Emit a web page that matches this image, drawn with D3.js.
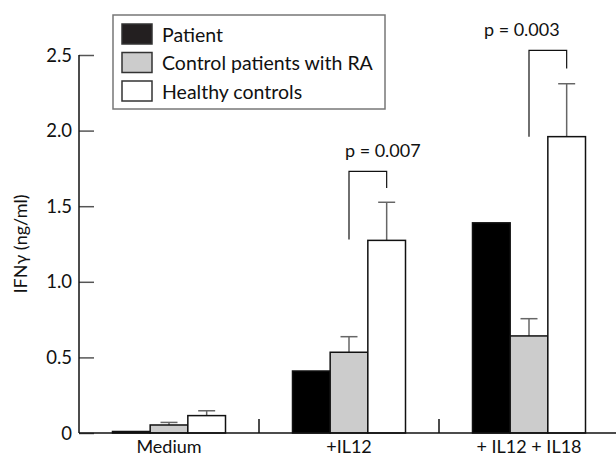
<!DOCTYPE html>
<html>
<head>
<meta charset="utf-8">
<script src="https://cdn.jsdelivr.net/npm/d3@7"></script>
<style>
  html, body { margin: 0; padding: 0; background: #fff; }
  svg { display: block; font-family: Lato, "DejaVu Sans", sans-serif; }
</style>
</head>
<body>
<svg id="chart" width="616" height="456"></svg>
<script>
// ---- data ----
const categories = ["Medium", "+IL12", "+ IL12 + IL18"];
const series = ["Patient", "Control patients with RA", "Healthy controls"];
const patientValues = [0.01, 0.41, 1.39];
const controlValues = [0.053, 0.534, 0.642];
const healthyValues = [0.115, 1.274, 1.96];
const patientErrors = [null, null, null];
const controlErrors = [0.07, 0.637, 0.756];
const healthyErrors = [0.147, 1.526, 2.31];
const yTicks = [0, 0.5, 1.0, 1.5, 2.0, 2.5];
const yTickLabels = ["0", "0.5", "1.0", "1.5", "2.0", "2.5"];
const yLabel = "IFNγ (ng/ml)";
// significance brackets
const bracketCategories = ["+IL12", "+ IL12 + IL18"];
const bracketLeftBottoms = [1.28, 1.96];
const bracketTops = [1.73, 2.53];
const bracketRightBottoms = [1.62, 2.41];
const bracketLabels = ["p = 0.007", "p = 0.003"];

const colors = ["#000000", "#cccccc", "#ffffff"];
const legendColors = ["#231f20", "#cccccc", "#ffffff"];

// ---- layout ----
const svg = d3.select("#chart");
const x0 = d3.scaleBand().domain(categories).range([79, 619]).paddingInner(0).paddingOuter(0);
const x1 = d3.scaleBand().domain(series).range([33.5, 146.5]);
const y = d3.scaleLinear().domain([0, 2.5]).range([433, 55]);

const valuesBySeries = [patientValues, controlValues, healthyValues];
const errorsBySeries = [patientErrors, controlErrors, healthyErrors];

const rows = [];
categories.forEach((c, ci) => {
  series.forEach((s, si) => {
    rows.push({cat: c, ser: s, si, v: valuesBySeries[si][ci], e: errorsBySeries[si][ci]});
  });
});

// error bars (behind bars)
const eb = svg.append("g").attr("stroke", "#666").attr("stroke-width", 1.5);
rows.filter(d => d.e != null).forEach(d => {
  const cx = x0(d.cat) + x1(d.ser) + x1.bandwidth() / 2;
  eb.append("line").attr("x1", cx).attr("x2", cx).attr("y1", y(d.v)).attr("y2", y(d.e));
  eb.append("line").attr("x1", cx - 8.5).attr("x2", cx + 8.5).attr("y1", y(d.e)).attr("y2", y(d.e));
});

// bars
svg.append("g").selectAll("rect").data(rows).join("rect")
  .attr("x", d => x0(d.cat) + x1(d.ser))
  .attr("y", d => y(d.v))
  .attr("width", x1.bandwidth())
  .attr("height", d => y(0) - y(d.v))
  .attr("fill", d => colors[d.si])
  .attr("stroke", "#111")
  .attr("stroke-width", 1.5);

// y axis
const yAxis = d3.axisRight(y).tickValues(yTicks).tickSize(15).tickFormat(() => "");
const gy = svg.append("g").attr("transform", "translate(79,0)").call(yAxis);
gy.select(".domain").remove();
gy.selectAll(".tick line").attr("stroke", "#555").attr("stroke-width", 1.5);
svg.append("line").attr("x1", 79).attr("x2", 79).attr("y1", y(2.5)).attr("y2", y(0))
  .attr("stroke", "#111").attr("stroke-width", 1.5);
svg.append("g").selectAll("text").data(yTicks).join("text")
  .attr("x", 72).attr("y", d => y(d)).attr("dy", "0.36em")
  .attr("text-anchor", "end").attr("font-size", 18.5).attr("fill", "#111")
  .text((d, i) => yTickLabels[i]);

// x axis baseline
svg.append("line").attr("x1", 79).attr("x2", 616).attr("y1", y(0)).attr("y2", y(0))
  .attr("stroke", "#111").attr("stroke-width", 1.5);
// group separators
svg.append("g").selectAll("line").data(categories.slice(1)).join("line")
  .attr("x1", d => x0(d)).attr("x2", d => x0(d))
  .attr("y1", y(0) - 14).attr("y2", y(0))
  .attr("stroke", "#111").attr("stroke-width", 1.5);
// x labels
svg.append("g").selectAll("text").data(categories).join("text")
  .attr("x", d => x0(d) + x1("Control patients with RA") + x1.bandwidth() / 2)
  .attr("y", 453).attr("text-anchor", "middle").attr("font-size", 18).attr("fill", "#111")
  .text(d => d);

// y label
svg.append("text").attr("transform", `translate(27,${(y(0) + y(2.5)) / 2}) rotate(-90)`)
  .attr("text-anchor", "middle").attr("font-size", 18).attr("fill", "#111").text(yLabel);

// brackets
const textDx = [15, -26];
bracketCategories.forEach((c, i) => {
  const lx = x0(c) + x1(series[1]) + x1.bandwidth() / 2;
  const rx = x0(c) + x1(series[2]) + x1.bandwidth() / 2;
  svg.append("path")
    .attr("d", `M${lx},${y(bracketLeftBottoms[i])}V${y(bracketTops[i])}H${rx}V${y(bracketRightBottoms[i])}`)
    .attr("fill", "none").attr("stroke", "#111").attr("stroke-width", 1.2);
  svg.append("text").attr("x", (lx + rx) / 2 + textDx[i]).attr("y", y(bracketTops[i]) - 14)
    .attr("text-anchor", "middle").attr("font-size", 18).attr("fill", "#111").text(bracketLabels[i]);
});

// legend
const lg = svg.append("g");
lg.append("rect").attr("x", 113).attr("y", 15).attr("width", 272).attr("height", 94)
  .attr("fill", "#fff").attr("stroke", "#777").attr("stroke-width", 1.5);
series.forEach((s, i) => {
  lg.append("rect").attr("x", 122).attr("y", 24 + i * 28.5).attr("width", 30).attr("height", 20)
    .attr("fill", legendColors[i]).attr("stroke", "#333").attr("stroke-width", 1.5);
  lg.append("text").attr("x", 162).attr("y", 41.5 + i * 28.5).attr("font-size", 19.5).attr("fill", "#111").text(s);
});
</script>
</body>
</html>
